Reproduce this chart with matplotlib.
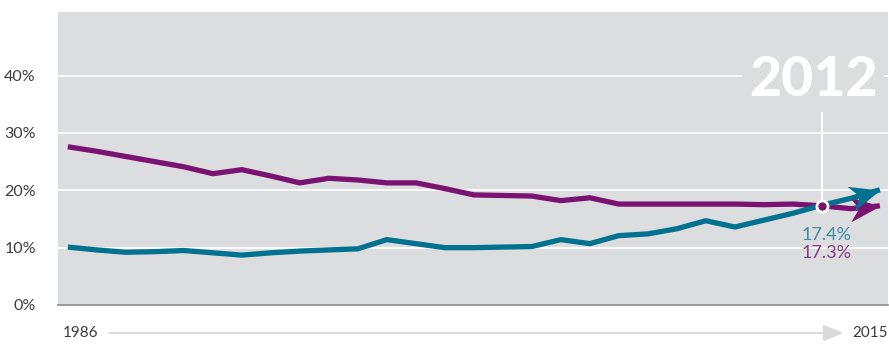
import matplotlib
matplotlib.use("Agg")
import matplotlib.pyplot as plt
from matplotlib.path import Path
from matplotlib.markers import MarkerStyle
from matplotlib.transforms import Affine2D
import numpy as np

# data (percent)
years = list(range(1986, 2015))
purple = [27.6, 26.8, 25.9, 25.0, 24.1, 22.9, 23.6, 22.5, 21.3, 22.1,
          21.8, 21.3, 21.3, 20.3, 19.2, 19.1, 19.0, 18.2, 18.7, 17.6,
          17.6, 17.6, 17.6, 17.6, 17.5, 17.6, 17.3, 16.8, 17.3]
blue = [10.1, 9.6, 9.2, 9.3, 9.5, 9.1, 8.7, 9.1, 9.4, 9.6,
        9.8, 11.4, 10.7, 10.0, 10.0, 10.1, 10.2, 11.4, 10.7, 12.1,
        12.4, 13.3, 14.7, 13.6, 14.8, 16.0, 17.4, 18.6, 20.1]
yticks = [0, 10, 20, 30, 40]
mark_year = 2012
mark_labels = ['17.4%', '17.3%']

c_purple = '#7a1271'
c_blue = '#00718f'
bg = '#dcdddf'
txt = '#3c3c3c'

plt.rcParams['font.family'] = ['Lato', 'DejaVu Sans']

fig = plt.figure(figsize=(8.89, 3.45), dpi=100)
ax = fig.add_axes([58/889, 1-305/345, 830/889, 293/345])
ax.set_facecolor(bg)
ax.set_xlim(1985.66, 2014.28)
ax.set_ylim(0, 51.1)

for t in yticks[1:]:
    ax.axhline(t, color='white', lw=1.2, zorder=1)

for s in ['top', 'right', 'left']:
    ax.spines[s].set_visible(False)
ax.spines['bottom'].set_color('#8c8c8c')
ax.spines['bottom'].set_linewidth(1.2)

ax.set_yticks(yticks)
ax.set_yticklabels([f'{t}%' for t in yticks], color=txt, fontsize=11.5)
ax.tick_params(axis='y', length=0, pad=16)
ax.set_xticks([])

# barbed arrow head, tip at origin pointing right
head = Path([(0, 0), (-1, 0.42), (-0.7, 0), (-1, -0.42), (0, 0)],
            [Path.MOVETO, Path.LINETO, Path.LINETO, Path.LINETO, Path.CLOSEPOLY])

for vals, col in [(purple, c_purple), (blue, c_blue)]:
    ax.plot(years, vals, color=col, lw=3.8, solid_capstyle='butt',
            solid_joinstyle='round', zorder=3)
    p0 = ax.transData.transform((years[-2], vals[-2]))
    p1 = ax.transData.transform((years[-1], vals[-1]))
    ang = np.degrees(np.arctan2(p1[1] - p0[1], p1[0] - p0[0]))
    m = MarkerStyle(head, transform=Affine2D().rotate_deg(ang))
    ax.plot(years[-1], vals[-1], marker=m, ms=44, color=col, mew=0,
            zorder=3, clip_on=False)

# 2012 highlight
i = years.index(mark_year)
ax.plot([mark_year, mark_year], [purple[i] + 0.6, 33.5], color='white', lw=1.5, zorder=4)
ax.plot(mark_year, purple[i], 'o', ms=8, mfc=c_purple, mec='white', mew=2, zorder=5)
ax.text(mark_year - 0.3, 39.3, str(mark_year), color='white', fontsize=40,
        fontweight='black', ha='center', va='center', zorder=4,
        bbox=dict(boxstyle='square,pad=0.12', fc=bg, ec='none'))
ax.text(mark_year + 0.15, 12.2, mark_labels[0], color='#3e8ca6', fontsize=13,
        ha='center', va='center', zorder=4)
ax.text(mark_year + 0.15, 9.0, mark_labels[1], color='#8a3a86', fontsize=13,
        ha='center', va='center', zorder=4)

# bottom timeline
fig.text(63/889, 1-333/345, str(years[0]), color=txt, fontsize=11, va='center', ha='left')
fig.text(888/889, 1-333/345, '2015', color=txt, fontsize=11, va='center', ha='right')
fig.add_artist(matplotlib.patches.FancyArrowPatch(
    (107/889, 1-333/345), (846/889, 1-333/345), transform=fig.transFigure,
    arrowstyle='-|>,head_length=1.2,head_width=0.5', mutation_scale=10,
    color='#dadada', lw=1.5))

fig.savefig('out.png', dpi=100, facecolor='white')
